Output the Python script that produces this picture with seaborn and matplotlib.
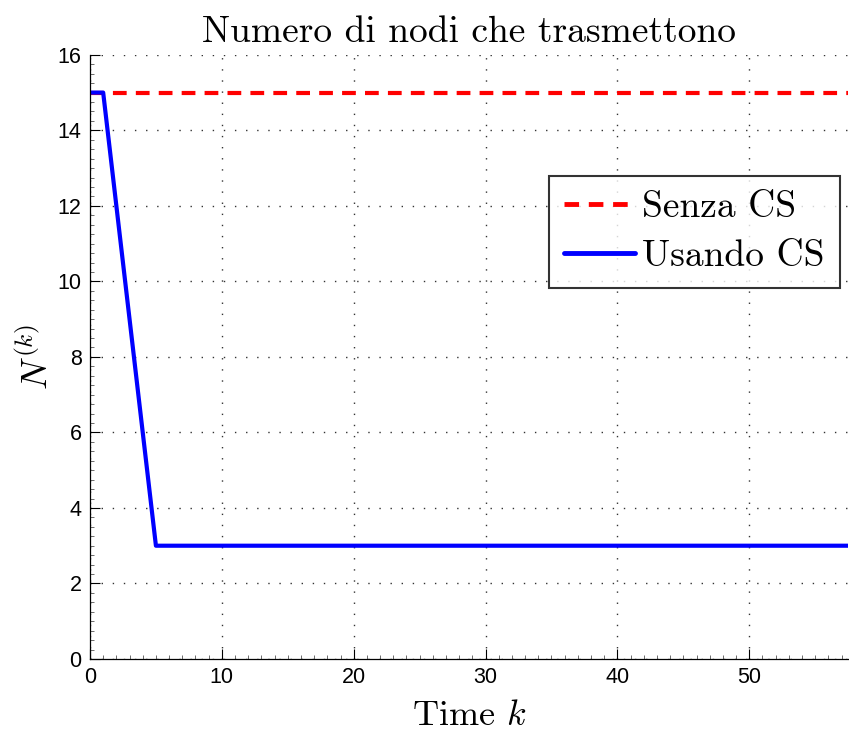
import numpy as np
import pandas as pd
import matplotlib
matplotlib.use("Agg")
import matplotlib.pyplot as plt
import seaborn as sns
from matplotlib.ticker import MultipleLocator
from matplotlib.lines import Line2D

# data
time_k = list(range(0, 61))
senza_cs = [15] * 61
usando_cs = [15, 15, 12, 9, 6] + [3] * 56
series_names = ["Senza CS", "Usando CS"]

df = pd.DataFrame({
    "k": time_k * 2,
    "N": senza_cs + usando_cs,
    "serie": [series_names[0]] * len(time_k) + [series_names[1]] * len(time_k),
})

sns.set_style("white")
plt.rcParams["mathtext.fontset"] = "cm"
plt.rcParams["font.family"] = ["Liberation Sans", "DejaVu Sans"]
plt.rcParams["text.color"] = "black"
plt.rcParams["axes.labelcolor"] = "black"

fig = plt.figure(figsize=(8.49, 7.31), dpi=100)
ax = fig.add_axes([0.106, 0.0985, 0.893, 0.8265])

sns.lineplot(data=df, x="k", y="N", hue="serie", style="serie",
             palette={"Senza CS": "#ff0000", "Usando CS": "#0000ff"},
             dashes={"Senza CS": (3.3, 2.2), "Usando CS": ""},
             linewidth=3, ax=ax, legend=False)

ax.set_xlim(0, 57.5)
ax.set_ylim(0, 16)
ax.xaxis.set_major_locator(MultipleLocator(10))
ax.yaxis.set_major_locator(MultipleLocator(2))
ax.xaxis.set_minor_locator(MultipleLocator(1))
ax.yaxis.set_minor_locator(MultipleLocator(0.25))
ax.tick_params(which="both", bottom=True, left=True, top=False, right=False)
ax.tick_params(which="major", direction="in", length=7, width=0.8, labelsize=15.5,
               pad=6, color="black", labelcolor="black")
ax.tick_params(which="minor", direction="in", length=3, width=0.6, color="#555555")
ax.grid(True, which="major", linestyle=(0, (1, 7)), color="#333333", linewidth=1.0)

for s in ["top", "right"]:
    ax.spines[s].set_visible(False)
for s in ["left", "bottom"]:
    ax.spines[s].set_color("black")
    ax.spines[s].set_linewidth(0.9)

ax.set_title("Numero di nodi che trasmettono", family="cmr10", fontsize=27, pad=9, color="black")
ax.set_xlabel(r"Time $k$", family="cmr10", fontsize=26, labelpad=9)
ax.set_ylabel(r"$N^{(k)}$", fontsize=26, labelpad=1)

handles = [Line2D([], [], color="#ff0000", lw=3.5, dashes=(3.0, 2.0)),
           Line2D([], [], color="#0000ff", lw=3.5)]
leg = ax.legend(handles, series_names, loc="upper right", bbox_to_anchor=(0.989, 0.8),
                prop={"family": "cmr10", "size": 27}, frameon=True, fancybox=False,
                edgecolor="black", handlelength=1.9, handletextpad=0.2,
                borderpad=0.4, labelspacing=0.42, borderaxespad=0)
leg.get_frame().set_linewidth(1.5)
for t in leg.get_texts():
    t.set_color("black")

fig.savefig("out.png", dpi=100)
